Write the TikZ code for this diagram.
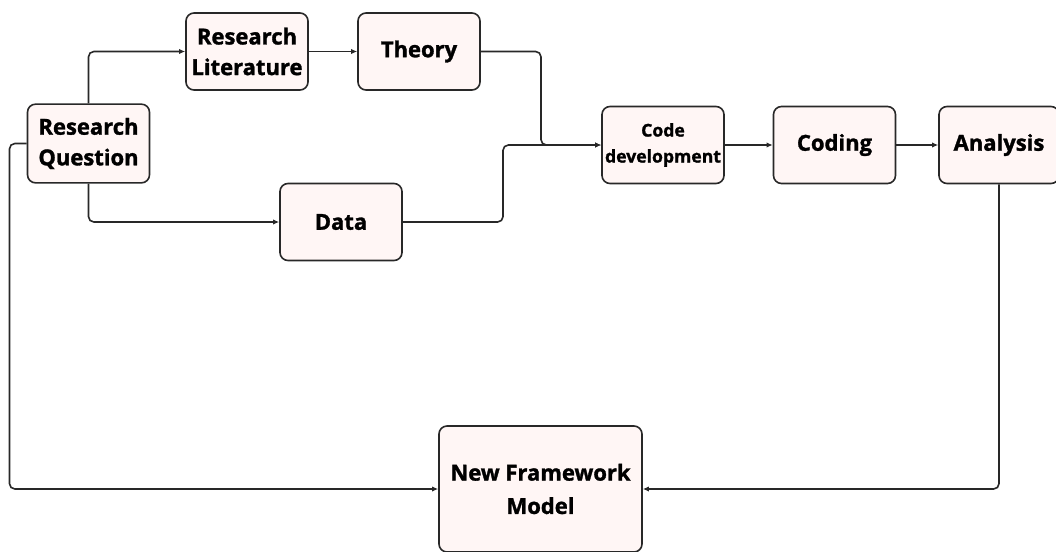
\documentclass[tikz,border=0pt]{standalone}
\usepackage{fontspec}
\setmainfont{Open Sans}[BoldFeatures={FakeBold=1.4}]
\usepackage{xcolor}
\usetikzlibrary{arrows.meta,calc}
\definecolor{boxfill}{RGB}{255,246,245}
\definecolor{boxline}{RGB}{40,40,40}

\begin{document}
\begin{tikzpicture}[>={Latex[length=4.5pt,width=4pt]},x=0.75pt,y=-0.75pt,
  box/.style={draw=boxline,line width=1.2pt,fill=boxfill,rounded corners=6pt,align=center,inner sep=1pt,
    font=\bfseries\fontsize{16.5}{23}\selectfont,minimum width=91.5pt,minimum height=57.75pt},
  flow/.style={->,draw=boxline,line width=1.2pt,rounded corners=4pt}]
\useasboundingbox (0,0) rectangle (1056,551);
\node[box,minimum height=59pt] (rq) at (88.5,143.5) {Research\\Question};
\node[box] (lit) at (247,51.5) {Research\\Literature};
\node[box] (theory) at (419,51.5) {Theory};
\node[box] (data) at (341,222) {Data};
\node[box,font=\bfseries\fontsize{13.2}{19.5}\selectfont] (codedev) at (663,145) {Code\\development};
\node[box] (coding) at (834.5,145) {Coding};
\node[box,minimum width=90pt] (analysis) at (999,145) {Analysis};
\node[box,minimum width=152.25pt,minimum height=94.5pt,font=\bfseries\fontsize{16.5}{25}\selectfont] (model) at (540.5,489) {New Framework\\Model};
\coordinate (tdrop) at (541,100);
\coordinate (drise) at (503,180);
\coordinate (back) at (9.5,300);
\draw[flow] (rq.north) |- (lit.west);
\draw[flow] (rq.south) |- (data.west);
\draw[flow] (lit.east) -- (theory.west);
\draw[flow] (theory.east) -| (tdrop |- codedev.west) -- (codedev.west);
\draw[flow] (data.east) -| (drise |- codedev.west) -- (codedev.west);
\draw[flow] (codedev.east) -- (coding.west);
\draw[flow] (coding.east) -- (analysis.west);
\draw[flow] (analysis.south) |- (model.east);
\draw[flow] (rq.west) -| (back |- model.west) -- (model.west);
\end{tikzpicture}
\end{document}
